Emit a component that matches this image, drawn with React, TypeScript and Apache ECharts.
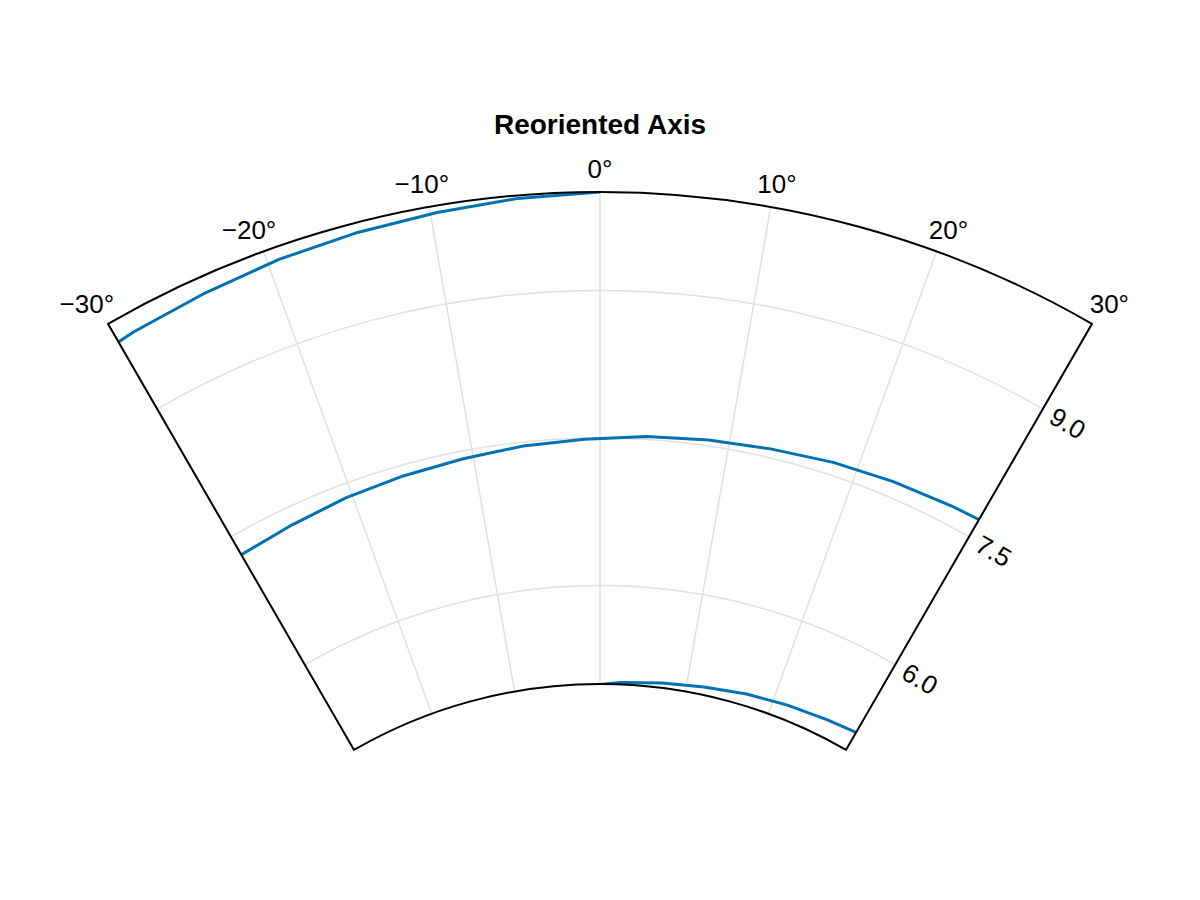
import { useEffect, useRef } from "react"
import * as echarts from "echarts"

// tick values
const angleTicks = [-30, -20, -10, 0, 10, 20, 30]
const radialTicks = [6.0, 7.5, 9.0]
const radialMin = 5
const radialMax = 10

// spiral vertices: [radius, angle in degrees]
const outerTurn = [
  [9.77, -33.7], [9.8, -28.9], [9.83, -24.1], [9.87, -19.3],
  [9.9, -14.4], [9.93, -9.6], [9.97, -4.8], [10.0, 0],
]
const middleTurn = [
  [7.29, -30.1], [7.32, -25.3], [7.36, -20.5], [7.39, -15.7], [7.42, -10.8],
  [7.46, -6.0], [7.49, -1.2], [7.53, 3.6], [7.56, 8.4], [7.59, 13.2],
  [7.63, 18.1], [7.66, 22.9], [7.69, 27.7], [7.73, 32.5],
]
const innerTurn = [
  [4.98, -2.4], [5.02, 2.4], [5.05, 7.2], [5.08, 12.0],
  [5.12, 16.9], [5.15, 21.7], [5.18, 26.5], [5.22, 31.3],
]

// layout
const CX = 600
const CY = 1176
const R0 = 492
const R1 = 984
const FONT = '"Liberation Sans", Arial, Helvetica, sans-serif'
const TICK_SIZE = 26
const BLUE = "#0072b2"
const GRID = "#e0e0e0"

const fmtAngle = (t: number) => (t < 0 ? `\u2212${-t}°` : `${t}°`)

function textWidth(text: string, size: number) {
  const ctx = document.createElement("canvas").getContext("2d")
  if (!ctx) return text.length * size * 0.55
  ctx.font = `${size}px ${FONT}`
  return ctx.measureText(text).width
}

function buildGraphic() {
  const items: any[] = []

  // frame of the sector
  items.push({
    type: "sector",
    silent: true,
    z: 10,
    shape: { cx: CX, cy: CY, r0: R0, r: R1, startAngle: -Math.PI * 2 / 3, endAngle: -Math.PI / 3, clockwise: true },
    style: { fill: "none", stroke: "#000", lineWidth: 2 },
  })

  // theta tick labels, pushed radially outward past the outer arc
  const gap = 15
  const h = 16
  angleTicks.forEach((t) => {
    const a = (t * Math.PI) / 180
    const s = Math.sin(a)
    const c = Math.cos(a)
    const label = fmtAngle(t)
    const w = textWidth(label, TICK_SIZE)
    items.push({
      type: "text",
      silent: true,
      z: 10,
      x: CX + (R1 + gap) * s + 0.5 * w * s,
      y: CY - (R1 + gap) * c - 0.5 * h * c,
      style: { text: label, fill: "#000", fontSize: TICK_SIZE, fontFamily: FONT, align: "center", verticalAlign: "middle" },
    })
  })

  // radial tick labels along the right edge
  const edge = (30 * Math.PI) / 180
  radialTicks.forEach((r) => {
    const px = R0 + ((r - radialMin) / (radialMax - radialMin)) * (R1 - R0)
    const x = CX + px * Math.sin(edge) + 10.5 * Math.cos(edge)
    const y = CY - px * Math.cos(edge) + 10.5 * Math.sin(edge)
    items.push({
      type: "text",
      silent: true,
      z: 10,
      x,
      y,
      rotation: -edge,
      style: { text: r.toFixed(1), fill: "#000", fontSize: TICK_SIZE, fontFamily: FONT, align: "left", verticalAlign: "middle" },
    })
  })

  return items
}

export default function App() {
  const chartRef = useRef<HTMLDivElement>(null)

  useEffect(() => {
    if (!chartRef.current) return
    document.body.style.margin = "0"
    const chart = echarts.init(chartRef.current, null, { renderer: "svg" })

    const option = {
      animation: false,
      backgroundColor: "#fff",
      title: {
        text: "Reoriented Axis",
        left: "center",
        top: 110,
        padding: 0,
        textStyle: { fontFamily: FONT, fontSize: 28, fontWeight: "bold", color: "#000" },
      },
      polar: { center: [CX, CY], radius: [R0, R1] },
      angleAxis: {
        type: "value",
        min: -30,
        max: 30,
        interval: 10,
        startAngle: 120,
        endAngle: 60,
        clockwise: true,
        axisLine: { show: false },
        axisTick: { show: false },
        axisLabel: { show: false },
        splitLine: { show: true, lineStyle: { color: GRID, width: 1.5 } },
      },
      radiusAxis: {
        type: "value",
        min: radialMin,
        max: radialMax,
        axisLine: { show: false },
        axisTick: { show: false, customValues: radialTicks },
        axisLabel: { show: false, customValues: radialTicks },
        splitLine: { show: true, lineStyle: { color: GRID, width: 1.5 } },
      },
      series: [outerTurn, middleTurn, innerTurn].map((d) => ({
        type: "line",
        coordinateSystem: "polar",
        data: d,
        symbol: "none",
        clip: true,
        lineStyle: { color: BLUE, width: 3 },
        z: 3,
      })),
      graphic: buildGraphic(),
    }

    chart.setOption(option)

    return () => {
      chart.dispose()
    }
  }, [])

  return <div ref={chartRef} style={{ width: 1200, height: 900 }} />
}
